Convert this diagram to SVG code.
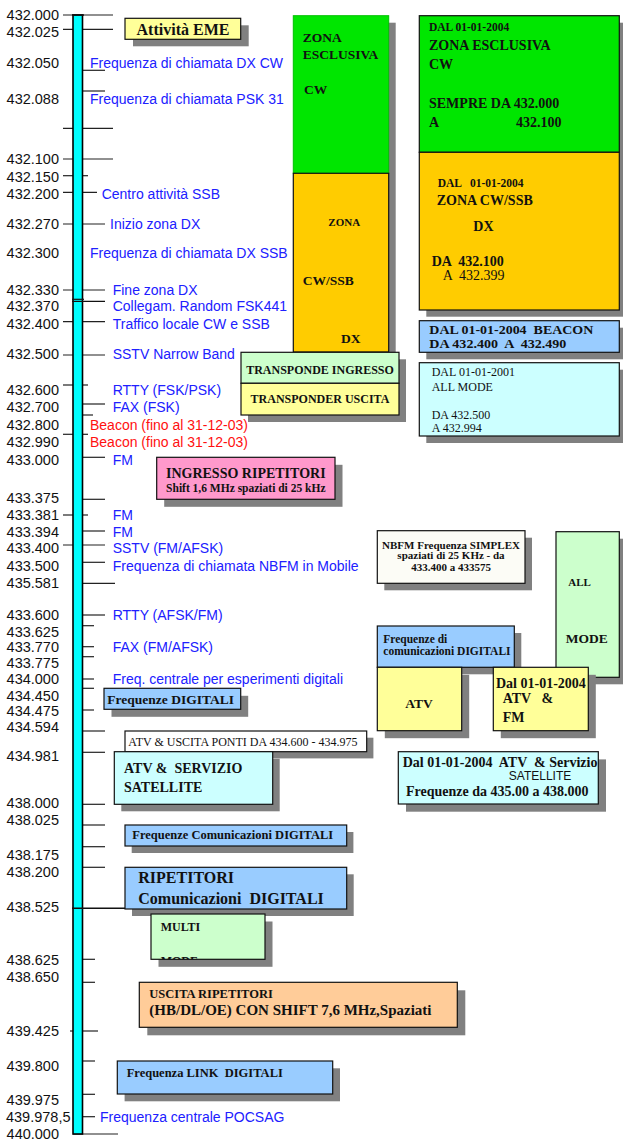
<svg xmlns="http://www.w3.org/2000/svg" width="623" height="1144" viewBox="0 0 623 1144">
<style>
.num{font-family:"Liberation Sans",Arial,sans-serif;font-size:14.5px;fill:#111;text-anchor:end}
.lb{font-family:"Liberation Sans",Arial,sans-serif;font-size:14px;fill:#2020FF}
.lr{font-family:"Liberation Sans",Arial,sans-serif;font-size:14px;fill:#FF1010}
.b{font-family:"Liberation Serif","Times New Roman",serif;font-weight:bold;fill:#111;white-space:pre}
.r{font-family:"Liberation Serif","Times New Roman",serif;fill:#111;white-space:pre}
.sh{fill:#808080}
.bx{stroke:#111;stroke-width:1.2}
.tk{stroke:#222;stroke-width:1.2}
</style>
<defs>
<clipPath id="cMulti"><rect x="151" y="914" width="114" height="45.3"/></clipPath>
</defs>
<rect width="623" height="1144" fill="#fff"/>

<g id="ticks">
<line class="tk" x1="63" y1="15" x2="113" y2="15"/>
<line class="tk" x1="63" y1="29.3" x2="113" y2="29.3" stroke="#555"/>
<line class="tk" x1="83" y1="70.3" x2="105" y2="70.3"/>
<line class="tk" x1="83" y1="91" x2="105" y2="91"/>
<line class="tk" x1="63" y1="128.3" x2="113" y2="128.3"/>
<line class="tk" x1="63" y1="159" x2="113" y2="159"/>
<line class="tk" x1="63" y1="175.7" x2="88" y2="175.7"/>
<line class="tk" x1="63" y1="192.3" x2="97" y2="192.3"/>
<line class="tk" x1="63" y1="224" x2="105" y2="224"/>
<line class="tk" x1="63" y1="290" x2="105" y2="290"/>
<line class="tk" x1="63" y1="321.7" x2="105" y2="321.7"/>
<line class="tk" x1="63" y1="355" x2="105" y2="355"/>
<line class="tk" x1="63" y1="385" x2="88" y2="385"/>
<line class="tk" x1="83" y1="404" x2="105" y2="404"/>
<line class="tk" x1="83" y1="415" x2="93" y2="415"/>
<line class="tk" x1="63" y1="434.3" x2="88" y2="434.3"/>
<line class="tk" x1="73" y1="457.3" x2="105" y2="457.3"/>
<line class="tk" x1="73" y1="499.3" x2="105" y2="499.3"/>
<line class="tk" x1="63" y1="515" x2="88" y2="515"/>
<line class="tk" x1="73" y1="531" x2="105" y2="531"/>
<line class="tk" x1="63" y1="545" x2="105" y2="545"/>
<line class="tk" x1="73" y1="562.3" x2="105" y2="562.3"/>
<line class="tk" x1="73" y1="583.3" x2="115" y2="583.3"/>
<line class="tk" x1="83" y1="615" x2="105" y2="615"/>
<line class="tk" x1="83" y1="625.7" x2="94" y2="625.7"/>
<line class="tk" x1="83" y1="646.7" x2="94" y2="646.7"/>
<line class="tk" x1="73" y1="656.7" x2="94" y2="656.7"/>
<line class="tk" x1="73" y1="679" x2="94" y2="679"/>
<line class="tk" x1="73" y1="688.3" x2="94" y2="688.3"/>
<line class="tk" x1="73" y1="710" x2="94" y2="710"/>
<line class="tk" x1="73" y1="731" x2="105" y2="731"/>
<line class="tk" x1="73" y1="752.3" x2="105" y2="752.3"/>
<line class="tk" x1="73" y1="804.3" x2="105" y2="804.3"/>
<line class="tk" x1="73" y1="825" x2="105" y2="825"/>
<line class="tk" x1="73" y1="846.7" x2="105" y2="846.7"/>
<line class="tk" x1="73" y1="867.3" x2="105" y2="867.3"/>
<line class="tk" x1="73" y1="959.3" x2="95" y2="959.3"/>
<line class="tk" x1="73" y1="982.3" x2="95" y2="982.3"/>
<line class="tk" x1="70" y1="1031" x2="98" y2="1031"/>
<line class="tk" x1="73" y1="1061" x2="95" y2="1061"/>
<line class="tk" x1="73" y1="1094.3" x2="95" y2="1094.3"/>
<line class="tk" x1="73" y1="1116.7" x2="95" y2="1116.7"/>
<line class="tk" x1="73" y1="1134" x2="118" y2="1134"/>
</g>

<g id="bar">
<rect x="73" y="15" width="9.5" height="1119" fill="#00FFFF" stroke="#000" stroke-width="1.6"/>
<line x1="72" y1="299.3" x2="84" y2="299.3" stroke="#111" stroke-width="1.2"/>
<line x1="72" y1="301.3" x2="105" y2="301.3" stroke="#111" stroke-width="1.2"/>
<line x1="72" y1="908.3" x2="128" y2="908.3" stroke="#111" stroke-width="1.4"/>
<line x1="72" y1="15" x2="84" y2="15" stroke="#111" stroke-width="1.4"/>
</g>

<g id="scale-labels">
<text class="num" x="59" y="20">432.000</text>
<text class="num" x="59" y="37">432.025</text>
<text class="num" x="59" y="67.5">432.050</text>
<text class="num" x="59" y="104">432.088</text>
<text class="num" x="59" y="164">432.100</text>
<text class="num" x="59" y="182">432.150</text>
<text class="num" x="59" y="199">432.200</text>
<text class="num" x="59" y="229">432.270</text>
<text class="num" x="59" y="258">432.300</text>
<text class="num" x="59" y="294.5">432.330</text>
<text class="num" x="59" y="311">432.370</text>
<text class="num" x="59" y="328.5">432.400</text>
<text class="num" x="59" y="359">432.500</text>
<text class="num" x="59" y="395">432.600</text>
<text class="num" x="59" y="412">432.700</text>
<text class="num" x="59" y="430">432.800</text>
<text class="num" x="59" y="447">432.990</text>
<text class="num" x="59" y="465">433.000</text>
<text class="num" x="59" y="503">433.375</text>
<text class="num" x="59" y="520">433.381</text>
<text class="num" x="59" y="537">433.394</text>
<text class="num" x="59" y="553">433.400</text>
<text class="num" x="59" y="571">433.500</text>
<text class="num" x="59" y="588">435.581</text>
<text class="num" x="59" y="620">433.600</text>
<text class="num" x="59" y="637">433.625</text>
<text class="num" x="59" y="652">433.770</text>
<text class="num" x="59" y="668">433.775</text>
<text class="num" x="59" y="684">434.000</text>
<text class="num" x="59" y="701">434.450</text>
<text class="num" x="59" y="716">434.475</text>
<text class="num" x="59" y="732">434.594</text>
<text class="num" x="59" y="761">434.981</text>
<text class="num" x="59" y="808">438.000</text>
<text class="num" x="59" y="824.5">438.025</text>
<text class="num" x="59" y="860">438.175</text>
<text class="num" x="59" y="877">438.200</text>
<text class="num" x="59" y="912">438.525</text>
<text class="num" x="59" y="964.5">438.625</text>
<text class="num" x="59" y="982">438.650</text>
<text class="num" x="59" y="1036">439.425</text>
<text class="num" x="59" y="1071">439.800</text>
<text class="num" x="59" y="1105">439.975</text>
<text class="num" x="6" y="1122" style="text-anchor:start" textLength="64.5" lengthAdjust="spacingAndGlyphs">439.978,5</text>
<text class="num" x="59" y="1139">440.000</text>
</g>

<g id="freq-labels">
<text class="lb" x="90" y="67.5">Frequenza di chiamata DX CW</text>
<text class="lb" x="90" y="104">Frequenza di chiamata PSK 31</text>
<text class="lb" x="101.7" y="199">Centro attività SSB</text>
<text class="lb" x="110" y="229">Inizio zona DX</text>
<text class="lb" x="90" y="258">Frequenza di chiamata DX SSB</text>
<text class="lb" x="112.7" y="294.5">Fine zona DX</text>
<text class="lb" x="112.7" y="311">Collegam. Random FSK441</text>
<text class="lb" x="112.7" y="328.5">Traffico locale CW e SSB</text>
<text class="lb" x="112.7" y="359">SSTV Narrow Band</text>
<text class="lb" x="112.7" y="395">RTTY (FSK/PSK)</text>
<text class="lb" x="112.7" y="412">FAX (FSK)</text>
<text class="lr" x="90" y="430">Beacon (fino al 31-12-03)</text>
<text class="lr" x="90" y="447">Beacon (fino al 31-12-03)</text>
<text class="lb" x="112.7" y="465">FM</text>
<text class="lb" x="112.7" y="520">FM</text>
<text class="lb" x="112.7" y="537">FM</text>
<text class="lb" x="112.7" y="553">SSTV (FM/AFSK)</text>
<text class="lb" x="112.7" y="571">Frequenza di chiamata NBFM in Mobile</text>
<text class="lb" x="112.7" y="620">RTTY (AFSK/FM)</text>
<text class="lb" x="112.7" y="652">FAX (FM/AFSK)</text>
<text class="lb" x="112.7" y="684">Freq. centrale per esperimenti digitali</text>
<text class="lb" x="100" y="1122">Frequenza centrale POCSAG</text>
</g>

<g id="eme">
<rect class="sh" x="133" y="25.3" width="115.7" height="21"/>
<rect class="bx" x="125" y="18.3" width="115.7" height="21" fill="#FFFF99"/>
<text class="b" x="183" y="34.5" font-size="16" text-anchor="middle">Attività EME</text>
</g>

<g id="zona-col">
<rect class="sh" x="300.3" y="22.7" width="95.4" height="336.3"/>
<rect x="293.3" y="15.7" width="95.4" height="157.6" fill="#00E600" stroke="#00C000" stroke-width="1"/>
<rect class="bx" x="293.3" y="173.3" width="95.4" height="178.7" fill="#FFCC00"/>
<text class="b" x="302.7" y="41.8" font-size="13.5">ZONA</text>
<text class="b" x="302.7" y="58.8" font-size="13.5">ESCLUSIVA</text>
<text class="b" x="304" y="93.8" font-size="13.5">CW</text>
<text class="b" x="328.3" y="226.3" font-size="11">ZONA</text>
<text class="b" x="302.7" y="284.5" font-size="13.5">CW/SSB</text>
<text class="b" x="341" y="342.8" font-size="13.5">DX</text>
</g>

<g id="zona-2004">
<rect class="sh" x="426.3" y="22.7" width="200" height="294"/>
<rect class="bx" x="419.3" y="15.7" width="200" height="136.6" fill="#00E600"/>
<rect class="bx" x="419.3" y="152.3" width="200" height="157.7" fill="#FFCC00"/>
<text class="b" x="429" y="30.5" font-size="11.5">DAL 01-01-2004</text>
<text class="b" x="429" y="49.7" font-size="14">ZONA ESCLUSIVA</text>
<text class="b" x="429" y="69" font-size="14">CW</text>
<text class="b" x="429" y="108" font-size="14">SEMPRE DA 432.000</text>
<text class="b" x="429" y="127.4" font-size="14">A</text>
<text class="b" x="516" y="127.4" font-size="14">432.100</text>
<text class="b" x="437.7" y="186.5" font-size="11.5">DAL   01-01-2004</text>
<text class="b" x="436.7" y="204.7" font-size="14">ZONA CW/SSB</text>
<text class="b" x="473.3" y="230.7" font-size="14">DX</text>
<text class="b" x="431.7" y="266.4" font-size="14">DA  432.100</text>
<text class="r" x="442.7" y="279.7" font-size="14">A  432.399</text>
</g>

<g id="beacon">
<rect class="sh" x="426.3" y="327.7" width="200" height="31.6"/>
<rect class="bx" x="419.3" y="320.7" width="200" height="31.6" fill="#99CCFF"/>
<text class="b" x="429.3" y="334.4" font-size="12.5" textLength="164" lengthAdjust="spacingAndGlyphs">DAL 01-01-2004  BEACON</text>
<text class="b" x="429.3" y="348.4" font-size="12.5" textLength="137" lengthAdjust="spacingAndGlyphs">DA 432.400  A  432.490</text>
</g>

<g id="allmode-2001">
<rect class="sh" x="426.3" y="369.7" width="200" height="73.3"/>
<rect class="bx" x="419.3" y="362.7" width="200" height="73.3" fill="#CCFFFF"/>
<text class="r" x="431.7" y="376.3" font-size="12">DAL 01-01-2001</text>
<text class="r" x="431.7" y="390.7" font-size="12">ALL MODE</text>
<text class="r" x="431.7" y="419" font-size="12">DA 432.500</text>
<text class="r" x="431.7" y="432.3" font-size="12">A 432.994</text>
</g>

<g id="transponder">
<rect class="sh" x="248" y="359.3" width="158" height="62.7"/>
<rect class="bx" x="241" y="352.3" width="158" height="31" fill="#CCFFCC"/>
<rect class="bx" x="241" y="383.3" width="158" height="31.7" fill="#FFFF99"/>
<text class="b" x="320" y="373.5" font-size="12" text-anchor="middle">TRANSPONDE INGRESSO</text>
<text class="b" x="320" y="403" font-size="12" text-anchor="middle">TRANSPONDER USCITA</text>
</g>

<g id="ingresso">
<rect class="sh" x="164.2" y="464.8" width="178.3" height="42"/>
<rect class="bx" x="156.7" y="457.3" width="178.3" height="42" fill="#FF99CC"/>
<text class="b" x="245.8" y="478.2" font-size="14" text-anchor="middle">INGRESSO RIPETITORI</text>
<text class="b" x="245.8" y="492.2" font-size="11.5" text-anchor="middle">Shift 1,6 MHz spaziati di 25 kHz</text>
</g>

<g id="nbfm">
<rect class="sh" x="384.3" y="537.7" width="147.7" height="52.6"/>
<rect class="bx" x="377.3" y="530.7" width="147.7" height="52.6" fill="#FCFCF6"/>
<text class="b" x="451" y="548.8" font-size="11" text-anchor="middle">NBFM Frequenza SIMPLEX</text>
<text class="b" x="451" y="558.8" font-size="11" text-anchor="middle">spaziati di 25 KHz - da</text>
<text class="b" x="451" y="570.5" font-size="11" text-anchor="middle">433.400 a 433575</text>
</g>

<g id="allmode-tall">
<rect class="sh" x="563" y="538.7" width="63.3" height="145.6"/>
<rect class="bx" x="556" y="531.7" width="63.3" height="145.6" fill="#CCFFCC"/>
<text class="b" x="568.3" y="585.5" font-size="11">ALL</text>
<text class="b" x="565.7" y="643" font-size="13.5">MODE</text>
</g>

<g id="digitali-com">
<rect class="sh" x="384.3" y="633" width="137" height="41.3"/>
<rect class="bx" x="377.3" y="626" width="137" height="41.3" fill="#99CCFF"/>
<text class="b" x="383.3" y="643.3" font-size="11.5">Frequenze di</text>
<text class="b" x="383.3" y="654.7" font-size="11.5">comunicazioni DIGITALI</text>
</g>

<g id="atv">
<rect class="sh" x="384.8" y="674.8" width="84.4" height="63.4"/>
<rect class="bx" x="377.3" y="667.3" width="84.4" height="63.4" fill="#FFFF99"/>
<text class="b" x="419" y="708" font-size="13.5" text-anchor="middle">ATV</text>
</g>

<g id="atv-fm">
<rect class="sh" x="500.8" y="674.8" width="95" height="63.4"/>
<rect class="bx" x="493.3" y="667.3" width="95" height="63.4" fill="#FFFF99"/>
<text class="b" x="496" y="687.6" font-size="14">Dal 01-01-2004</text>
<text class="b" x="502.7" y="703.2" font-size="14">ATV   &amp;</text>
<text class="b" x="502.7" y="721.6" font-size="14">FM</text>
</g>

<g id="atv-sat-2004">
<rect class="sh" x="406" y="759.4" width="200" height="52.3"/>
<rect class="bx" x="398.3" y="751.7" width="200" height="52.3" fill="#CCFFFF"/>
<text class="b" x="402.7" y="766.5" font-size="14">Dal 01-01-2004  ATV  &amp; Servizio</text>
<text x="540" y="780" font-family="Liberation Sans, Arial, sans-serif" font-size="12" fill="#111" text-anchor="middle">SATELLITE</text>
<text class="b" x="406" y="795.5" font-size="14">Frequenze da 435.00 a 438.000</text>
</g>

<g id="freq-digitali">
<rect class="sh" x="111.5" y="695.8" width="136.7" height="21"/>
<rect class="bx" x="104" y="688.3" width="136.7" height="21" fill="#99CCFF"/>
<text class="b" x="107.3" y="703.5" font-size="13.5">Frequenze DIGITALI</text>
</g>

<g id="atv-uscita-ponti">
<rect class="sh" x="131.7" y="737.7" width="241.7" height="20.7"/>
<rect class="bx" x="125" y="731" width="241.7" height="20.7" fill="#FFFFFF"/>
<text class="r" x="128.3" y="745.8" font-size="12">ATV &amp; USCITA PONTI DA 434.600 - 434.975</text>
</g>

<g id="atv-servizio-sat">
<rect class="sh" x="121.3" y="758.7" width="158.4" height="52.6"/>
<rect class="bx" x="114.3" y="751.7" width="158.4" height="52.6" fill="#CCFFFF"/>
<text class="b" x="124" y="772.5" font-size="14">ATV &amp;  SERVIZIO</text>
<text class="b" x="124" y="791.5" font-size="14">SATELLITE</text>
</g>

<g id="freq-com-digitali">
<rect class="sh" x="131.7" y="832" width="221.7" height="21"/>
<rect class="bx" x="125" y="825" width="221.7" height="21" fill="#99CCFF"/>
<text class="b" x="132.3" y="839.4" font-size="12.5">Frequenze Comunicazioni DIGITALI</text>
</g>

<g id="ripetitori-digitali">
<rect class="sh" x="132" y="874.3" width="221.7" height="41.7"/>
<rect class="bx" x="125" y="867.3" width="221.7" height="41.7" fill="#99CCFF"/>
<text class="b" x="138.3" y="882.8" font-size="16">RIPETITORI</text>
<text class="b" x="138.3" y="903.8" font-size="16">Comunicazioni  DIGITALI</text>
</g>

<g id="multimode">
<rect class="sh" x="158.5" y="921.5" width="114" height="45.3"/>
<rect x="151" y="914" width="114" height="45.3" fill="#CCFFCC"/>
<text class="b" x="160.7" y="930.8" font-size="12">MULTI</text>
<text class="b" x="160.7" y="965" font-size="12" clip-path="url(#cMulti)">MODE</text>
<rect class="bx" x="151" y="914" width="114" height="45.3" fill="none"/>
</g>

<g id="uscita-ripetitori">
<rect class="sh" x="147.3" y="990.3" width="318" height="45"/>
<rect class="bx" x="139.3" y="982.3" width="318" height="45" fill="#FFCC99"/>
<text class="b" x="149.3" y="998.3" font-size="12.5">USCITA RIPETITORI</text>
<text class="b" x="149.3" y="1014.5" font-size="15">(HB/DL/OE) CON SHIFT 7,6 MHz,Spaziati</text>
</g>

<g id="link-digitali">
<rect class="sh" x="124.6" y="1068.3" width="215.4" height="33"/>
<rect class="bx" x="117.3" y="1061" width="215.4" height="33" fill="#99CCFF"/>
<text class="b" x="126.7" y="1077" font-size="12.5">Frequenza LINK  DIGITALI</text>
</g>
</svg>
